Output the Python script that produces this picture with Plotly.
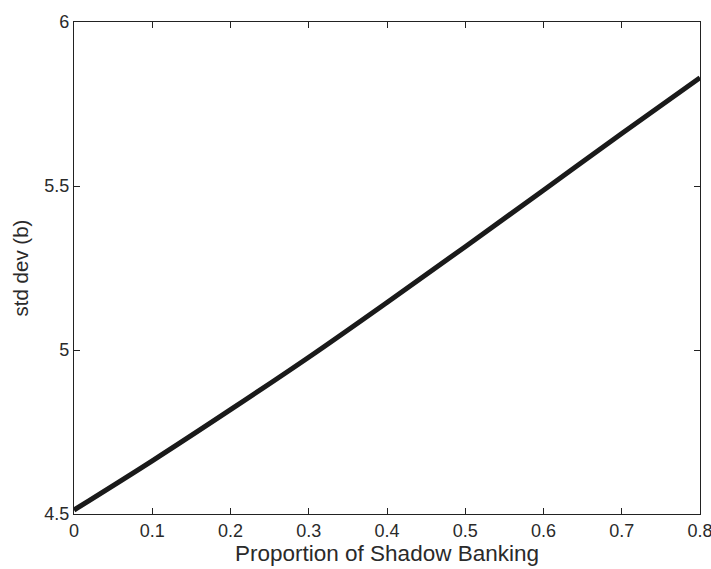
import plotly.graph_objects as go

proportion = [0.0, 0.1, 0.2, 0.3, 0.4, 0.5, 0.6, 0.7, 0.8]
std_dev_b = [4.512, 4.662, 4.818, 4.978, 5.145, 5.315, 5.487, 5.660, 5.830]
x_ticks = [0, 0.1, 0.2, 0.3, 0.4, 0.5, 0.6, 0.7, 0.8]
x_tick_labels = ["0", "0.1", "0.2", "0.3", "0.4", "0.5", "0.6", "0.7", "0.8"]
y_ticks = [4.5, 5, 5.5, 6]
y_tick_labels = ["4.5", "5", "5.5", "6"]

FONT = "Liberation Sans, Arial, sans-serif"
fig = go.Figure()
fig.add_trace(go.Scatter(x=proportion, y=std_dev_b, mode="lines",
                         line=dict(color="#1a1a1a", width=5), line_shape="spline",
                         showlegend=False, cliponaxis=False))

axis_common = dict(showgrid=False, zeroline=False, showline=True, linecolor="#222",
                   linewidth=1.3, mirror="ticks", ticks="inside", ticklen=6,
                   tickcolor="#222", tickwidth=1.2, ticklabeloverflow="allow",
                   automargin=False,
                   tickfont=dict(family=FONT, size=18, color="#2a2a2a"))

fig.update_xaxes(range=[0, 0.8], tickvals=x_ticks, ticktext=x_tick_labels,
                 title=dict(text="Proportion of Shadow Banking", standoff=1,
                            font=dict(family=FONT, size=22.5, color="#2a2a2a")),
                 **axis_common)
fig.update_yaxes(range=[4.5, 6], tickvals=y_ticks, ticktext=y_tick_labels,
                 title=dict(text="std dev (b)", standoff=10,
                            font=dict(family=FONT, size=20.5, color="#2a2a2a")),
                 **axis_common)

fig.update_layout(width=711, height=569, margin=dict(l=74, r=11, t=22, b=55),
                  plot_bgcolor="white", paper_bgcolor="white")
fig.write_html("out.html")
